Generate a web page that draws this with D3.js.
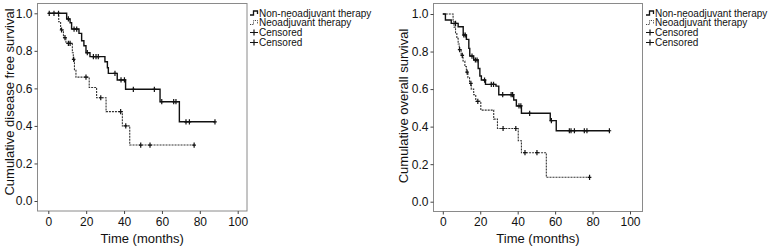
<!DOCTYPE html>
<html>
<head>
<meta charset="utf-8">
<script src="https://cdn.jsdelivr.net/npm/d3@7/dist/d3.min.js"></script>
<style>
body { margin: 0; background: #fff; }
svg text { font-family: "Liberation Sans", Arial, sans-serif; fill: #111; }
</style>
</head>
<body>
<div id="chart-area"></div>
<script>
/*
*    KM curves, DFS and OS
*/

// x tick labels / y tick labels
var xTicks = [0, 20, 40, 60, 80, 100];
var yTicks = [0.0, 0.2, 0.4, 0.6, 0.8, 1.0];

var legendLabels = ["Non-neoadjuvant therapy", "Neoadjuvant therapy", "Censored", "Censored"];

// disease free survival, non-neoadjuvant
var dfsNonTimes = [9.7, 11.5, 12.3, 16.2, 17.6, 18.8, 19.9, 22, 29.9, 31.2, 31.7, 36.4, 40.8, 59, 69.2];
var dfsNonSurv  = [0.97, 0.95, 0.916, 0.893, 0.854, 0.827, 0.79, 0.769, 0.742, 0.71, 0.68, 0.645, 0.595, 0.529, 0.422];
var dfsNonCens  = [0.5, 3, 5.4, 10.6, 13.6, 15, 20.6, 23.8, 25.2, 26.4, 35.2, 38.4, 40.2, 44.9, 56, 59.9, 66.2, 67.4, 72.7, 74.5, 88];

// disease free survival, neoadjuvant
var dfsNeoTimes = [5.5, 6.5, 8, 9.3, 12.7, 13.2, 13.8, 14.6, 21.6, 25.5, 30.5, 39.1, 43];
var dfsNeoSurv  = [0.955, 0.911, 0.87, 0.84, 0.79, 0.755, 0.70, 0.66, 0.605, 0.55, 0.476, 0.40, 0.298];
var dfsNeoCens  = [7, 8.8, 10.6, 11.5, 13.4, 19.9, 27.7, 38.2, 40.9, 48.8, 53.7, 77];

// overall survival, non-neoadjuvant
var osNonTimes = [1.4, 4.5, 8.2, 10.9, 12.6, 13.9, 14.4, 16.5, 18.9, 19.8, 20.6, 22.8, 28.4, 29.9, 37.9, 39.3, 42, 57.4, 60.6];
var osNonSurv  = [0.968, 0.95, 0.932, 0.888, 0.865, 0.817, 0.776, 0.755, 0.71, 0.67, 0.648, 0.625, 0.616, 0.57, 0.542, 0.51, 0.471, 0.432, 0.378];
var osNonCens  = [6.8, 11.2, 12, 15.6, 17.4, 18.3, 22.3, 25.9, 27.1, 32, 36.5, 37.3, 40.7, 41.7, 46.4, 58, 67.6, 68.5, 70.3, 75.6, 77, 89];

// overall survival, neoadjuvant
var osNeoTimes = [5.5, 6, 6.8, 7.5, 8.2, 8.8, 9.8, 10.8, 11.8, 12.6, 13.4, 14.3, 15.2, 16.5, 17.6, 20.3, 27.2, 29.2, 40.3, 42, 55.3];
var osNeoSurv  = [0.96, 0.93, 0.9, 0.87, 0.84, 0.81, 0.78, 0.75, 0.72, 0.69, 0.66, 0.63, 0.60, 0.57, 0.535, 0.488, 0.44, 0.39, 0.325, 0.261, 0.13];
var osNeoCens  = [9, 10.4, 13, 15, 18.7, 32.2, 39, 43.9, 50.3, 78.4];

var width = 771;
var height = 249;

var svg = d3.select("#chart-area").append("svg")
    .attr("width", width)
    .attr("height", height);

var charts = [
    {
        frame: {left: 37.5, right: 247, top: 3.5, bottom: 211},
        x0: 48.3, x100: 237.7, y0: 201, y1: 13.3,
        ytitle: "Cumulative disease free survival", ytitleX: 9, ytitleY: 102,
        legendX: 250,
        solid: {times: dfsNonTimes, surv: dfsNonSurv, cens: dfsNonCens},
        dotted: {times: dfsNeoTimes, surv: dfsNeoSurv, cens: dfsNeoCens}
    },
    {
        frame: {left: 433.5, right: 642.5, top: 3.5, bottom: 211.5},
        x0: 442.8, x100: 630, y0: 201.7, y1: 14,
        ytitle: "Cumulative overall survival", ytitleX: 403, ytitleY: 106,
        legendX: 646,
        solid: {times: osNonTimes, surv: osNonSurv, cens: osNonCens},
        dotted: {times: osNeoTimes, surv: osNeoSurv, cens: osNeoCens}
    }
];

function survAt(curve, t) {
    var s = 1;
    for (var i = 0; i < curve.times.length; i++) {
        if (curve.times[i] <= t) s = curve.surv[i];
    }
    return s;
}

function stepPoints(curve) {
    var pts = [[0, 1]];
    curve.times.forEach((t, i) => { pts.push([t, curve.surv[i]]); });
    var tEnd = d3.max(curve.cens.concat(curve.times));
    pts.push([tEnd, curve.surv[curve.surv.length - 1]]);
    return pts;
}

charts.forEach((c) => {
    var g = svg.append("g");
    var f = c.frame;

    var x = d3.scaleLinear().domain([0, 100]).range([c.x0, c.x100]);
    var y = d3.scaleLinear().domain([0, 1]).range([c.y0, c.y1]);

    // frame
    g.append("rect")
        .attr("x", f.left).attr("y", f.top)
        .attr("width", f.right - f.left).attr("height", f.bottom - f.top)
        .attr("fill", "none").attr("stroke", "#8a8a8a").attr("stroke-width", 1);

    // y axis
    var leftAxis = d3.axisLeft(y).tickValues(yTicks).tickSize(3).tickPadding(2)
        .tickFormat(d3.format(".1f"));
    var ga = g.append("g")
        .attr("transform", "translate(" + f.left + ",0)")
        .call(leftAxis);
    ga.select(".domain").remove();
    ga.selectAll("line").attr("stroke", "#444");
    ga.selectAll("text").attr("font-size", "12px").attr("fill", "#222");

    // x axis
    var bottomAxis = d3.axisBottom(x).tickValues(xTicks).tickSize(3).tickPadding(3);
    var gb = g.append("g")
        .attr("transform", "translate(0," + f.bottom + ")")
        .call(bottomAxis);
    gb.select(".domain").remove();
    gb.selectAll("line").attr("stroke", "#444");
    gb.selectAll("text").attr("font-size", "12px").attr("fill", "#222");

    // axis titles
    g.append("text")
        .attr("x", (f.left + f.right) / 2)
        .attr("y", 243)
        .attr("font-size", "13px")
        .attr("text-anchor", "middle")
        .text("Time (months)");

    g.append("text")
        .attr("transform", "translate(" + c.ytitleX + "," + c.ytitleY + ") rotate(-90)")
        .attr("dy", "0.35em")
        .attr("font-size", "13px")
        .attr("text-anchor", "middle")
        .text(c.ytitle);

    var line = d3.line()
        .x((d) => x(d[0]))
        .y((d) => y(d[1]))
        .curve(d3.curveStepAfter);

    [["dotted", "#333", "2,1", 1.1], ["solid", "#111", null, 1.4]].forEach((s) => {
        var curve = c[s[0]];
        g.append("path")
            .datum(stepPoints(curve))
            .attr("d", line)
            .attr("fill", "none")
            .attr("stroke", s[1])
            .attr("stroke-width", s[3])
            .attr("stroke-dasharray", s[2]);

        g.selectAll(".cens-" + s[0])
            .data(curve.cens)
            .enter().append("path")
            .attr("d", (t) => {
                var cx = x(t), cy = y(survAt(curve, t));
                return "M" + (cx - 1.8) + "," + cy + "H" + (cx + 1.8) +
                    "M" + cx + "," + (cy - 2.6) + "V" + (cy + 2.6);
            })
            .attr("stroke", "#111")
            .attr("stroke-width", 1.2)
            .attr("fill", "none");
    });

    // legend
    var lx = c.legendX;
    var rows = [13, 22.5, 32.5, 42.5];
    var lg = g.append("g");
    // solid step glyph
    lg.append("path")
        .attr("d", "M" + lx + "," + (rows[0] + 2) + "H" + (lx + 3.5) + "V" + (rows[0] - 2) + "H" + (lx + 7.5) + "V" + (rows[0] + 1))
        .attr("fill", "none").attr("stroke", "#111").attr("stroke-width", 1.3);
    lg.append("path")
        .attr("d", "M" + lx + "," + (rows[1] + 2) + "H" + (lx + 3.5) + "V" + (rows[1] - 2) + "H" + (lx + 7.5) + "V" + (rows[1] + 1))
        .attr("fill", "none").attr("stroke", "#444").attr("stroke-width", 1).attr("stroke-dasharray", "1.2,1");
    [2, 3].forEach((r) => {
        lg.append("path")
            .attr("d", "M" + lx + "," + rows[r] + "H" + (lx + 8) + "M" + (lx + 4) + "," + (rows[r] - 3) + "V" + (rows[r] + 3))
            .attr("fill", "none").attr("stroke", "#111").attr("stroke-width", 1.2);
    });
    lg.selectAll("text")
        .data(legendLabels)
        .enter().append("text")
        .attr("x", lx + 9)
        .attr("y", (d, i) => rows[i])
        .attr("dy", "0.35em")
        .attr("font-size", "10px")
        .text((d) => d);
});
</script>
</body>
</html>
